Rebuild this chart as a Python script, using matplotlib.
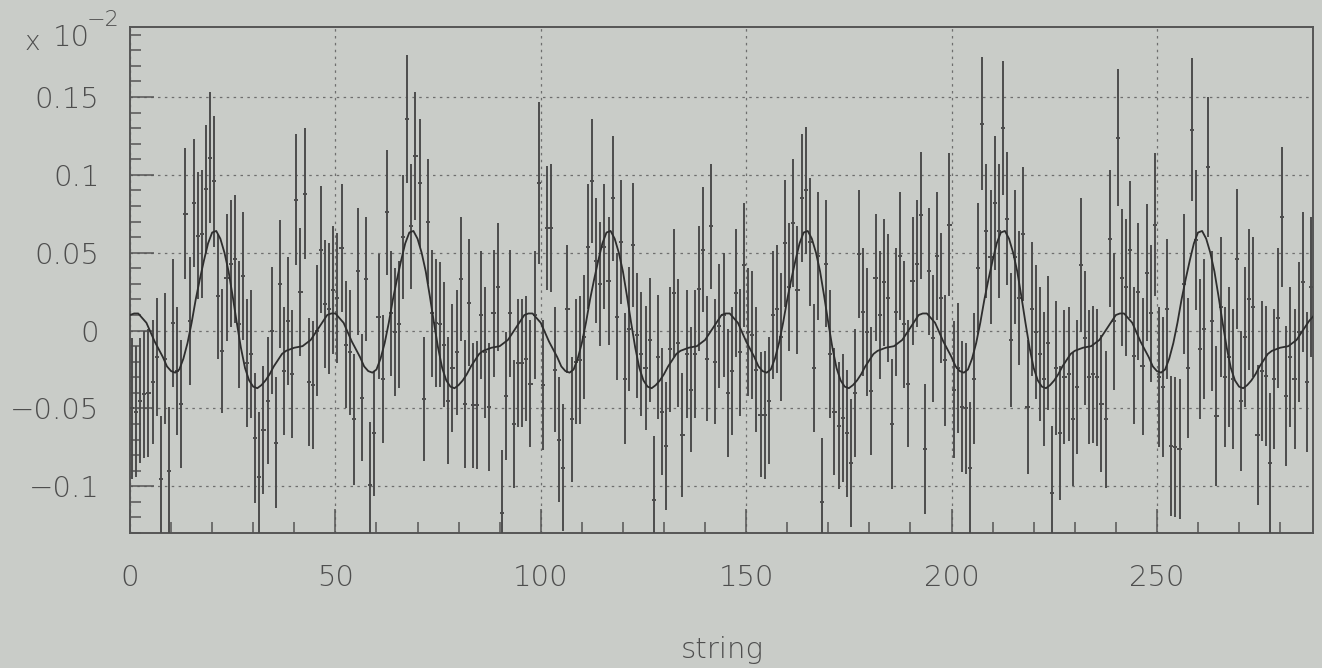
import numpy as np
import matplotlib
matplotlib.use("Agg")
import matplotlib.pyplot as plt
from matplotlib.ticker import MultipleLocator, FuncFormatter

# residual per string (units of 1e-2), strings 0..287
residual = [
    -0.050, -0.052, -0.045, -0.041, -0.040, -0.033, -0.017, -0.095, -0.018, -0.090, 0.005, -0.026,
    -0.047, 0.075, 0.006, 0.082, 0.061, 0.062, 0.091, 0.111, 0.096, 0.022, -0.013, 0.034,
    0.043, 0.046, 0.004, 0.035, -0.021, -0.015, -0.069, -0.094, -0.064, -0.045, 0.000, -0.072,
    0.030, -0.026, 0.006, -0.028, 0.084, 0.025, 0.088, -0.033, -0.035, 0.000, 0.052, 0.017,
    0.014, 0.026, 0.021, 0.053, -0.009, -0.014, -0.057, 0.038, -0.043, 0.033, -0.099, -0.066,
    0.009, -0.031, 0.076, 0.011, -0.001, 0.004, 0.060, 0.136, 0.067, 0.112, 0.095, -0.044,
    0.070, 0.011, 0.005, 0.004, -0.009, -0.045, -0.024, -0.014, 0.033, -0.047, 0.018, -0.048,
    -0.048, 0.010, -0.014, -0.049, 0.011, 0.028, -0.117, -0.042, 0.011, -0.060, -0.021, -0.021,
    -0.018, -0.034, 0.010, 0.095, -0.035, 0.066, 0.066, -0.025, -0.070, -0.088, 0.014, -0.057,
    -0.020, -0.019, -0.004, 0.054, 0.096, 0.045, 0.030, 0.054, 0.032, 0.085, 0.009, 0.057,
    -0.031, 0.001, 0.055, -0.003, -0.015, -0.024, -0.006, -0.109, -0.017, -0.052, -0.074, -0.012,
    0.024, -0.008, -0.067, -0.015, -0.038, -0.015, 0.027, 0.052, -0.018, 0.067, -0.020, 0.003,
    0.010, -0.040, -0.026, 0.024, -0.014, 0.042, -0.001, -0.003, -0.025, -0.054, -0.054, -0.045,
    0.010, 0.014, -0.004, 0.056, 0.028, 0.069, 0.026, 0.085, 0.090, 0.057, -0.024, 0.048,
    -0.110, 0.043, -0.015, -0.052, -0.061, -0.056, -0.066, -0.085, -0.040, 0.049, 0.012, -0.001,
    -0.039, 0.034, 0.010, 0.031, 0.021, -0.060, 0.012, 0.048, 0.004, -0.034, 0.032, 0.043,
    0.074, -0.076, 0.038, -0.005, 0.048, 0.021, -0.019, 0.068, -0.038, -0.024, -0.049, -0.050,
    -0.088, -0.031, 0.040, 0.133, 0.064, 0.047, 0.082, 0.064, 0.130, 0.072, -0.006, 0.047,
    0.021, 0.062, -0.049, 0.014, -0.001, -0.015, -0.031, -0.008, -0.104, -0.024, -0.066, -0.030,
    -0.028, -0.057, -0.036, 0.042, -0.005, -0.030, -0.028, -0.030, -0.047, -0.057, 0.059, 0.006,
    0.124, 0.034, 0.028, 0.052, -0.016, 0.025, -0.023, 0.037, 0.011, 0.068, -0.030, -0.036,
    0.014, -0.074, -0.075, -0.076, 0.030, -0.024, 0.129, 0.058, -0.012, 0.001, 0.105, 0.006,
    -0.055, 0.015, -0.030, -0.017, -0.031, 0.046, -0.045, -0.004, 0.020, 0.015, -0.067, -0.026,
    -0.029, -0.085, -0.031, 0.008, 0.073, -0.042, -0.017, -0.031, -0.001, 0.031, -0.033, 0.028,
]

residual_err = [
    0.045, 0.042, 0.040, 0.041, 0.041, 0.040, 0.038, 0.040, 0.042, 0.041, 0.041, 0.041,
    0.041, 0.042, 0.041, 0.041, 0.041, 0.041, 0.041, 0.042, 0.042, 0.040, 0.040, 0.041,
    0.041, 0.041, 0.041, 0.041, 0.041, 0.041, 0.042, 0.042, 0.041, 0.041, 0.041, 0.042,
    0.041, 0.041, 0.041, 0.041, 0.042, 0.041, 0.042, 0.041, 0.041, 0.042, 0.041, 0.041,
    0.042, 0.041, 0.042, 0.041, 0.041, 0.040, 0.042, 0.041, 0.041, 0.040, 0.040, 0.040,
    0.040, 0.041, 0.040, 0.040, 0.041, 0.041, 0.040, 0.041, 0.040, 0.041, 0.041, 0.040,
    0.040, 0.041, 0.041, 0.040, 0.040, 0.041, 0.041, 0.040, 0.040, 0.041, 0.041, 0.040,
    0.041, 0.041, 0.042, 0.041, 0.041, 0.041, 0.040, 0.041, 0.041, 0.041, 0.041, 0.041,
    0.040, 0.041, 0.041, 0.052, 0.042, 0.040, 0.041, 0.040, 0.040, 0.041, 0.041, 0.040,
    0.040, 0.041, 0.040, 0.040, 0.040, 0.040, 0.040, 0.040, 0.041, 0.040, 0.041, 0.040,
    0.042, 0.040, 0.040, 0.040, 0.040, 0.040, 0.040, 0.041, 0.040, 0.041, 0.041, 0.040,
    0.041, 0.041, 0.040, 0.041, 0.040, 0.041, 0.040, 0.040, 0.040, 0.040, 0.040, 0.040,
    0.040, 0.041, 0.041, 0.041, 0.041, 0.040, 0.041, 0.041, 0.040, 0.040, 0.041, 0.041,
    0.041, 0.041, 0.041, 0.041, 0.041, 0.041, 0.041, 0.041, 0.041, 0.041, 0.041, 0.041,
    0.041, 0.041, 0.041, 0.041, 0.041, 0.041, 0.041, 0.041, 0.041, 0.041, 0.041, 0.041,
    0.041, 0.041, 0.041, 0.041, 0.041, 0.042, 0.041, 0.041, 0.041, 0.041, 0.041, 0.041,
    0.041, 0.042, 0.041, 0.041, 0.041, 0.042, 0.042, 0.046, 0.044, 0.042, 0.042, 0.042,
    0.042, 0.042, 0.042, 0.043, 0.043, 0.043, 0.043, 0.043, 0.043, 0.043, 0.043, 0.043,
    0.043, 0.043, 0.043, 0.043, 0.043, 0.043, 0.043, 0.043, 0.043, 0.043, 0.043, 0.043,
    0.043, 0.043, 0.043, 0.043, 0.043, 0.043, 0.044, 0.044, 0.044, 0.044, 0.044, 0.044,
    0.044, 0.044, 0.044, 0.044, 0.044, 0.044, 0.044, 0.044, 0.044, 0.046, 0.045, 0.045,
    0.045, 0.045, 0.045, 0.045, 0.045, 0.045, 0.046, 0.045, 0.045, 0.045, 0.045, 0.045,
    0.045, 0.045, 0.045, 0.045, 0.045, 0.045, 0.045, 0.045, 0.045, 0.045, 0.045, 0.045,
    0.045, 0.045, 0.045, 0.045, 0.045, 0.045, 0.045, 0.045, 0.045, 0.045, 0.045, 0.045,
]

# fitted curve, sampled every string from 0 to 288 (one row per 48-string period)
fit_curve = [
    0.010, 0.011, 0.011, 0.008, 0.005, -0.001, -0.007, -0.012, -0.017, -0.023, -0.026, -0.027,
    -0.025, -0.018, -0.008, 0.005, 0.020, 0.033, 0.045, 0.056, 0.063, 0.064, 0.059, 0.050,
    0.038, 0.022, 0.005, -0.011, -0.024, -0.032, -0.036, -0.037, -0.035, -0.032, -0.028, -0.023,
    -0.019, -0.015, -0.013, -0.012, -0.011, -0.0105, -0.010, -0.008, -0.006, -0.002, 0.002, 0.006,
    0.010, 0.011, 0.011, 0.008, 0.005, -0.001, -0.007, -0.012, -0.017, -0.023, -0.026, -0.027,
    -0.025, -0.018, -0.008, 0.005, 0.020, 0.033, 0.045, 0.056, 0.063, 0.064, 0.059, 0.050,
    0.038, 0.022, 0.005, -0.011, -0.024, -0.032, -0.036, -0.037, -0.035, -0.032, -0.028, -0.023,
    -0.019, -0.015, -0.013, -0.012, -0.011, -0.0105, -0.010, -0.008, -0.006, -0.002, 0.002, 0.006,
    0.010, 0.011, 0.011, 0.008, 0.005, -0.001, -0.007, -0.012, -0.017, -0.023, -0.026, -0.027,
    -0.025, -0.018, -0.008, 0.005, 0.020, 0.033, 0.045, 0.056, 0.063, 0.064, 0.059, 0.050,
    0.038, 0.022, 0.005, -0.011, -0.024, -0.032, -0.036, -0.037, -0.035, -0.032, -0.028, -0.023,
    -0.019, -0.015, -0.013, -0.012, -0.011, -0.0105, -0.010, -0.008, -0.006, -0.002, 0.002, 0.006,
    0.010, 0.011, 0.011, 0.008, 0.005, -0.001, -0.007, -0.012, -0.017, -0.023, -0.026, -0.027,
    -0.025, -0.018, -0.008, 0.005, 0.020, 0.033, 0.045, 0.056, 0.063, 0.064, 0.059, 0.050,
    0.038, 0.022, 0.005, -0.011, -0.024, -0.032, -0.036, -0.037, -0.035, -0.032, -0.028, -0.023,
    -0.019, -0.015, -0.013, -0.012, -0.011, -0.0105, -0.010, -0.008, -0.006, -0.002, 0.002, 0.006,
    0.010, 0.011, 0.011, 0.008, 0.005, -0.001, -0.007, -0.012, -0.017, -0.023, -0.026, -0.027,
    -0.025, -0.018, -0.008, 0.005, 0.020, 0.033, 0.045, 0.056, 0.063, 0.064, 0.059, 0.050,
    0.038, 0.022, 0.005, -0.011, -0.024, -0.032, -0.036, -0.037, -0.035, -0.032, -0.028, -0.023,
    -0.019, -0.015, -0.013, -0.012, -0.011, -0.0105, -0.010, -0.008, -0.006, -0.002, 0.002, 0.006,
    0.010, 0.011, 0.011, 0.008, 0.005, -0.001, -0.007, -0.012, -0.017, -0.023, -0.026, -0.027,
    -0.025, -0.018, -0.008, 0.005, 0.020, 0.033, 0.045, 0.056, 0.063, 0.064, 0.059, 0.050,
    0.038, 0.022, 0.005, -0.011, -0.024, -0.032, -0.036, -0.037, -0.035, -0.032, -0.028, -0.023,
    -0.019, -0.015, -0.013, -0.012, -0.011, -0.0105, -0.010, -0.008, -0.006, -0.002, 0.002, 0.006,
    0.009,
]

BG = "#c9ccc8"
INK = "#4e4e4e"
plt.rcParams["font.family"] = ["DejaVu Sans"]
plt.rcParams["font.weight"] = "light"

fig = plt.figure(figsize=(13.22, 6.68), dpi=100, facecolor=BG)
ax = fig.add_axes([130 / 1322, 1 - 533 / 668, 1183 / 1322, 506 / 668], facecolor=BG)

x = np.arange(len(residual)) + 0.5
ax.errorbar(x, residual, yerr=residual_err, xerr=0.5, fmt="none",
            ecolor="#4c4c4c", elinewidth=1.4, capsize=0, zorder=3)

fit_x = np.arange(len(fit_curve))
ax.plot(fit_x, fit_curve, color="#2e2e2e", lw=1.3, zorder=4)

ax.set_xlim(0, 288)
ax.set_ylim(-0.13, 0.195)

ax.xaxis.set_major_locator(MultipleLocator(50))
ax.xaxis.set_minor_locator(MultipleLocator(10))
ax.yaxis.set_major_locator(MultipleLocator(0.05))
ax.yaxis.set_minor_locator(MultipleLocator(0.01))

def fmt(v, pos):
    s = f"{v:.2f}".rstrip("0").rstrip(".")
    if s in ("-0", "0"):
        return "0"
    return s.replace("-", "\u2212")

ax.yaxis.set_major_formatter(FuncFormatter(fmt))
ax.xaxis.set_major_formatter(FuncFormatter(lambda v, p: f"{v:g}"))

ax.tick_params(which="both", direction="in", top=False, right=False,
               color="#555555", labelcolor=INK, labelsize=21)
ax.tick_params(which="major", length=17, width=1.1)
ax.tick_params(which="minor", length=8, width=1.1)
ax.tick_params(axis="y", pad=22)
ax.tick_params(axis="x", pad=22)

ax.grid(True, which="major", color="#6e6e6e", lw=0.9, ls=(0, (2, 3.5)), zorder=1)

for sp in ax.spines.values():
    sp.set_color("#555555")
    sp.set_linewidth(1.4)

fig.text(722 / 1322, 1 - 650 / 668, "string", ha="center", va="center",
         fontsize=21, color=INK)
fig.text(25 / 1322, 1 - 42 / 668, "x", ha="left", va="center",
         fontsize=19, color=INK)
fig.text(53 / 1322, 1 - 38 / 668, "10", ha="left", va="center",
         fontsize=21, color=INK)
fig.text(87 / 1322, 1 - 20 / 668, "\u22122", ha="left", va="center",
         fontsize=16, color=INK)

fig.savefig("out.png", dpi=100, facecolor=BG)
